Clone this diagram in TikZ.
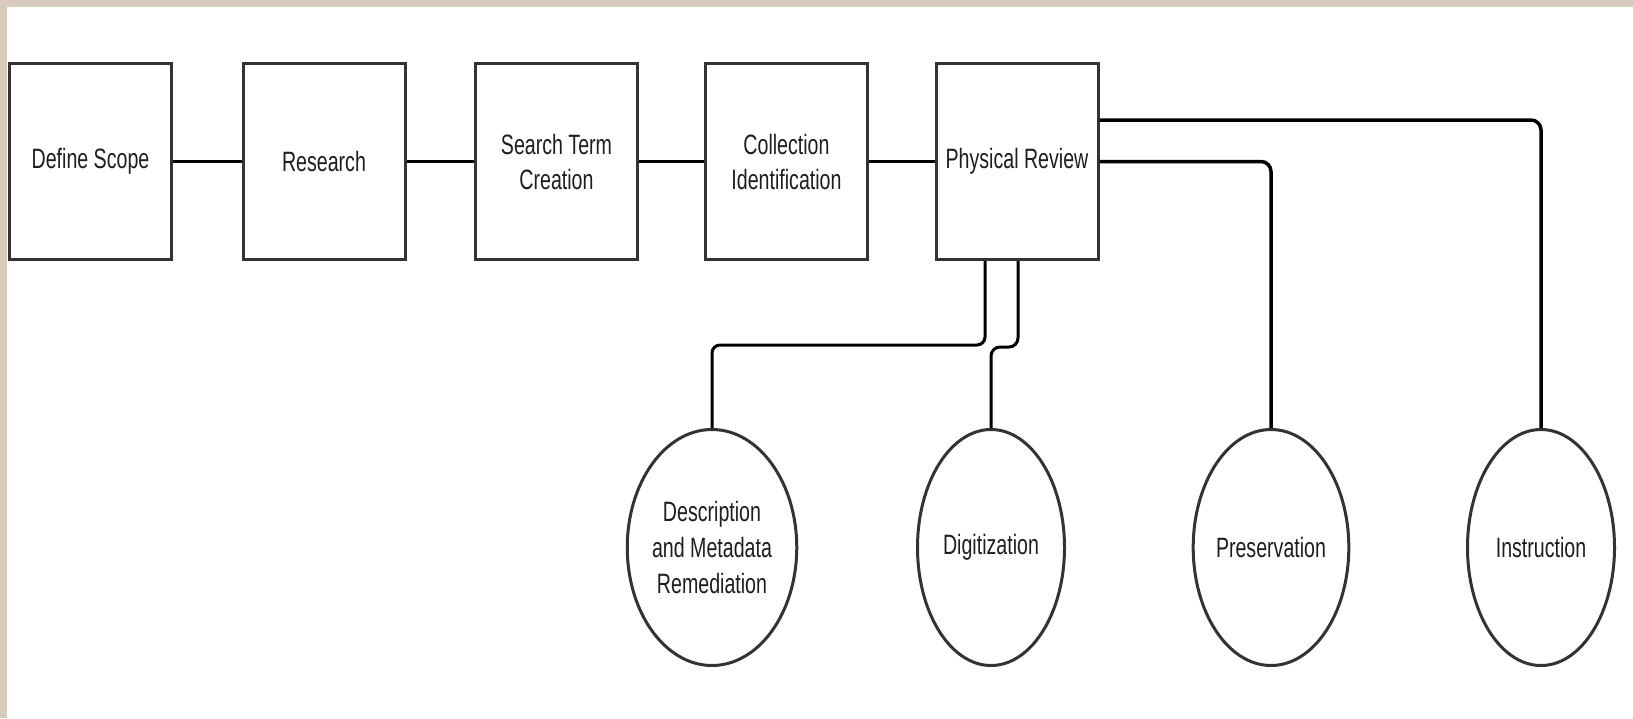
\documentclass[tikz,border=0pt]{standalone}
\usepackage{fontspec}
\setmainfont{Liberation Sans}[FakeStretch=0.7]
\usetikzlibrary{shapes.geometric}
\definecolor{beige}{HTML}{D6CBBD}
\definecolor{edge}{HTML}{333333}
\definecolor{txt}{HTML}{1E1E1E}
\begin{document}
\begin{tikzpicture}[x=1pt,y=-1pt,
  box/.style={draw=edge,line width=3pt,fill=white,minimum width=162pt,minimum height=196pt,inner sep=0pt,align=center,text=txt,font=\fontsize{28}{35}\selectfont},
  oval/.style={ellipse,draw=edge,line width=3pt,fill=white,minimum width=147pt,minimum height=236pt,inner sep=0pt,align=center,text=txt,font=\fontsize{28}{36}\selectfont},
  conn/.style={draw=black,line width=3.5pt},
  vconn/.style={draw=black,line width=3pt}]
\useasboundingbox (0,0) rectangle (1633,718);
\fill[beige] (0,0) rectangle (1633,718);
\fill[white] (7,7) rectangle (1633,718);

\node[box] (ds) at (90.5,161.5) {Define Scope};
\node[box] (rs) at (324,161.5) {Research};
\node[box] (st) at (556.5,161.5) {Search Term\\Creation};
\node[box] (ci) at (786.5,161.5) {Collection\\Identification};
\node[box] (pr) at (1017,161.5) {Physical Review};

\node[oval] (dm) at (712,547.5) {Description\\and Metadata\\Remediation};
\node[oval] (dg) at (991,547.5) {Digitization};
\node[oval] (pv) at (1271,547.5) {Preservation};
\node[oval] (in) at (1541,547.5) {Instruction};

\draw[conn] (ds) -- (rs);
\draw[conn] (rs) -- (st);
\draw[conn] (st) -- (ci);
\draw[conn] (ci) -- (pr);
\draw[conn,rounded corners=10pt] (pr.east |- 0,120) -| (in.north);
\draw[conn,rounded corners=10pt] (pr.east) -| (pv.north);
\draw[vconn,rounded corners=8pt] (pr.south -| 985,0) -- (985,345) -| (dm.north);
\draw[vconn,rounded corners=9pt] (pr.south -| 1018,0) -- (1018,347) -- (991,347) -- (dg.north);
\end{tikzpicture}
\end{document}
